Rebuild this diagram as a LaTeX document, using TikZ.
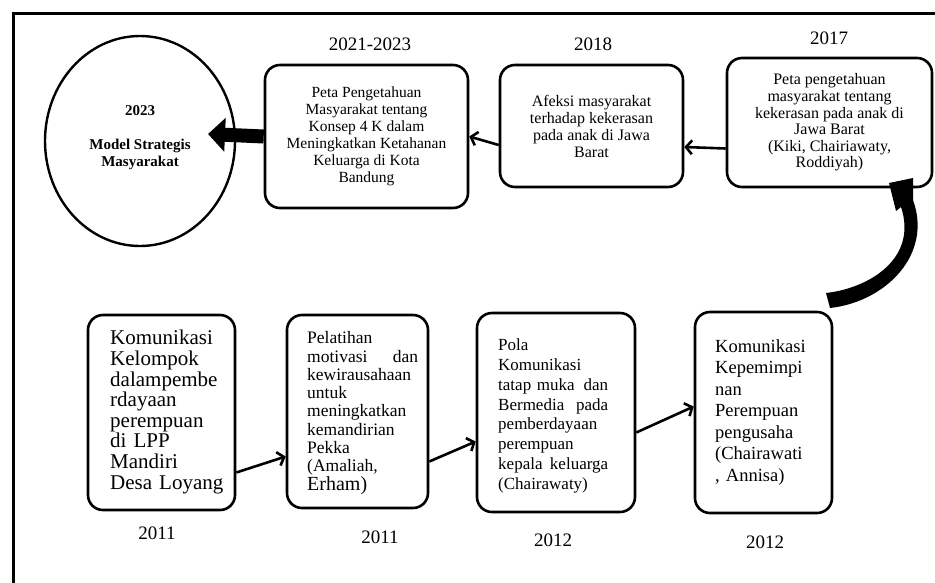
\documentclass[tikz,border=0pt]{standalone}
\usepackage{fontspec}
\setmainfont{Liberation Serif}
\usetikzlibrary{arrows.meta,shapes.geometric}
\begin{document}
\begin{tikzpicture}[x=1pt,y=-1pt,
  box/.style={draw,line width=2.6pt,rounded corners=15pt,inner sep=0pt},
  topfont/.style={font=\fontsize{15.5}{17}\selectfont,align=center},
  thin/.style={line width=2.6pt,-{Straight Barb[length=6pt,width=14pt]}},
  yr/.style={font=\fontsize{19}{19}\selectfont,inner sep=0pt},
  btxt/.style={anchor=west,align=left,inner sep=0pt}]
\useasboundingbox (0,0) rectangle (935,582);
\fill[white] (0,0) rectangle (935,582);
\clip (0,0) rectangle (935,582);
% frame
\draw[line width=3pt] (13,620) -- (13,13) -- (960,13);

% top row
\node[draw,line width=2.4pt,ellipse,minimum width=190pt,minimum height=210pt,inner sep=0pt] (ell) at (140,141) {};
\node[font=\fontsize{15}{17}\bfseries\selectfont,align=center,inner sep=0pt] (elltxt) at (140,138)
  {2023\\[17pt]Model Strategis\\Masyarakat};

\node[box,minimum width=203pt,minimum height=143pt,topfont] (b2) at (366.5,136.5)
  {Peta Pengetahuan\\Masyarakat tentang\\Konsep 4 K dalam\\Meningkatkan Ketahanan\\Keluarga di Kota\\Bandung};
\node[box,minimum width=183pt,minimum height=122pt,font=\fontsize{16}{17}\selectfont,align=center] (b3) at (591.5,126)
  {Afeksi masyarakat\\terhadap kekerasan\\pada anak di Jawa\\Barat};
\node[box,minimum width=205pt,minimum height=129pt,font=\fontsize{16}{16.6}\selectfont,align=center] (b4) at (829.5,122.5)
  {Peta pengetahuan\\masyarakat tentang\\kekerasan pada anak di\\Jawa Barat\\(Kiki, Chairiawaty,\\Roddiyah)};

\node[yr] (y1) at (370,44) {2021-2023};
\node[yr] (y2) at (593,44) {2018};
\node[yr] (y3) at (829,38) {2017};

% top arrows
\coordinate (tip) at (208,134);
\draw[line width=14pt,-{Triangle[length=17pt,width=33pt]}] (b2.west) -- (tip);
\draw[thin] ([yshift=-19pt]b3.west) -- ([yshift=0pt]b2.east);
\draw[thin] ([yshift=-26pt]b4.west) -- ([yshift=-21pt]b3.east);

% bottom row
\node[box,minimum width=147pt,minimum height=195pt] (bA) at (161.5,412.5) {};
\node[box,minimum width=141pt,minimum height=193pt] (bB) at (357.5,411.5) {};
\node[box,minimum width=158pt,minimum height=199pt] (bC) at (556,412.5) {};
\node[box,minimum width=137pt,minimum height=201pt] (bD) at (763.5,412.5) {};

\node[btxt,text width=118pt,font=\fontsize{21}{20.6}\selectfont] (tA) at (110,412)
  {Komunikasi\\Kelompok\\dalampembe\\rdayaan\\perempuan\\di LPP\\Mandiri\\Desa Loyang};
\node[btxt,text width=111pt,font=\fontsize{17.5}{18.3}\selectfont] (tB) at (307,413)
  {Pelatihan\\motivasi\hfill dan\\kewirausahaan\\untuk\\meningkatkan\\kemandirian\\Pekka\\(Amaliah,\\{\fontsize{20}{18.3}\selectfont Erham)}};
\node[btxt,text width=110pt,font=\fontsize{17}{19.8}\selectfont] (tC) at (498,416)
  {Pola\\Komunikasi\\tatap muka\hfill dan\\Bermedia\hfill pada\\pemberdayaan\\perempuan\\kepala\hfill keluarga\\(Chairawaty)};
\node[btxt,text width=100pt,font=\fontsize{18.5}{21.5}\selectfont] (tD) at (715,412.5)
  {Komunikasi\\Kepemimpi\\nan\\Perempuan\\pengusaha\\(Chairawati\\, Annisa)};

\node[yr] (y4) at (157,533) {2011};
\node[yr] (y5) at (380,537) {2011};
\node[yr] (y6) at (553,540) {2012};
\node[yr] (y7) at (765,542) {2012};

% bottom arrows
\draw[thin] ([yshift=-60pt]bA.east) -- ([yshift=-45pt]bB.west);
\draw[thin] ([yshift=-50pt]bB.east) -- ([yshift=-29pt]bC.west);
\draw[thin] ([yshift=-20pt]bC.east) -- ([yshift=6pt]bD.west);

% curved block arrow from bD to b4
\coordinate (ctail) at (828,300);
\coordinate (chead) at (889,183);
\fill (chead) -- (913,178) -- (913,200) .. controls (933,255) and (885,302) .. (830,308)
  -- (826,293) .. controls (870,288) and (918,258) .. (901,207) -- (896,211) -- cycle;
\end{tikzpicture}
\end{document}
